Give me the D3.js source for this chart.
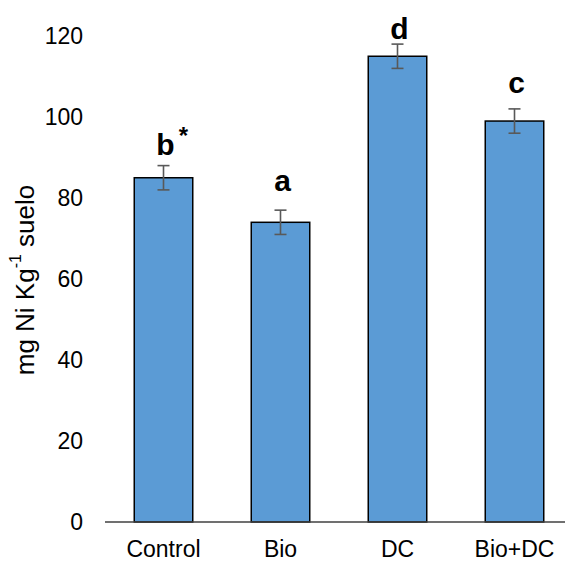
<!DOCTYPE html>
<html>
<head>
<meta charset="utf-8">
<script src="https://cdn.jsdelivr.net/npm/d3@7"></script>
<style>
  html, body { margin: 0; padding: 0; background: #fff; }
  svg { display: block; font-family: Arial, "Liberation Sans", sans-serif; }
</style>
</head>
<body>
<svg id="chart" width="565" height="561"></svg>
<script>
// ---- data ----
const categories = ["Control", "Bio", "DC", "Bio+DC"];
const values = [85, 74, 115, 99];
const errors = [3, 3, 3, 3];
const letters = ["b", "a", "d", "c"];
const marks = ["*", "", "", ""];
const yTicks = [0, 20, 40, 60, 80, 100, 120];

// ---- layout ----
const svg = d3.select("#chart");
const x = d3.scaleBand().domain(categories).range([105, 573]).paddingInner(0.5).paddingOuter(0.25);
const y = d3.scaleLinear().domain([0, 120]).range([522, 36]);

// letter gap above error-bar top (px), per bar, as placed in the original
const letterGap = [11, 19, 5, 16];

// y tick labels
svg.append("g").selectAll("text").data(yTicks).join("text")
  .attr("x", 83).attr("y", d => y(d))
  .attr("dy", "0.35em").attr("text-anchor", "end")
  .attr("font-size", 23).attr("fill", "#000")
  .text(d => d);

// bars
svg.append("g").selectAll("rect").data(categories).join("rect")
  .attr("x", d => x(d)).attr("width", x.bandwidth())
  .attr("y", (d, i) => y(values[i]))
  .attr("height", (d, i) => y(0) - y(values[i]))
  .attr("fill", "#5B9BD5").attr("stroke", "#000").attr("stroke-width", 1.5);

// x axis line
svg.append("line").attr("x1", 105).attr("x2", 565)
  .attr("y1", y(0)).attr("y2", y(0))
  .attr("stroke", "#404040").attr("stroke-width", 1.5);

// error bars
const eb = svg.append("g").attr("stroke", "#595959").attr("stroke-width", 1.6);
categories.forEach((c, i) => {
  const cx = x(c) + x.bandwidth() / 2;
  const top = y(values[i] + errors[i]), bot = y(values[i] - errors[i]);
  eb.append("line").attr("x1", cx).attr("x2", cx).attr("y1", top).attr("y2", bot);
  eb.append("line").attr("x1", cx - 6).attr("x2", cx + 6).attr("y1", top).attr("y2", top);
  eb.append("line").attr("x1", cx - 6).attr("x2", cx + 6).attr("y1", bot).attr("y2", bot);
});

// significance letters
categories.forEach((c, i) => {
  const cx = x(c) + x.bandwidth() / 2 + 2;
  const base = y(values[i] + errors[i]) - letterGap[i];
  svg.append("text").attr("x", cx).attr("y", base)
    .attr("text-anchor", "middle").attr("font-size", 30).attr("font-weight", "bold")
    .text(letters[i]);
  if (marks[i]) {
    svg.append("text").attr("x", cx + 18).attr("y", base - 11)
      .attr("text-anchor", "middle").attr("font-size", 24).attr("font-weight", "bold")
      .text(marks[i]);
  }
});

// x labels
svg.append("g").selectAll("text").data(categories).join("text")
  .attr("x", d => x(d) + x.bandwidth() / 2).attr("y", 557)
  .attr("text-anchor", "middle")
  .attr("font-size", 23).attr("fill", "#000")
  .text(d => d);

// y axis title
const yt = svg.append("text")
  .attr("transform", "translate(25,280) rotate(-90)")
  .attr("text-anchor", "middle").attr("dy", "0.35em")
  .attr("font-size", 26).attr("fill", "#000");
yt.append("tspan").text("mg Ni Kg");
yt.append("tspan").attr("font-size", 16).attr("dy", "-0.8em").text("-1");
yt.append("tspan").attr("dy", "0.5em").text(" suelo");
</script>
</body>
</html>
